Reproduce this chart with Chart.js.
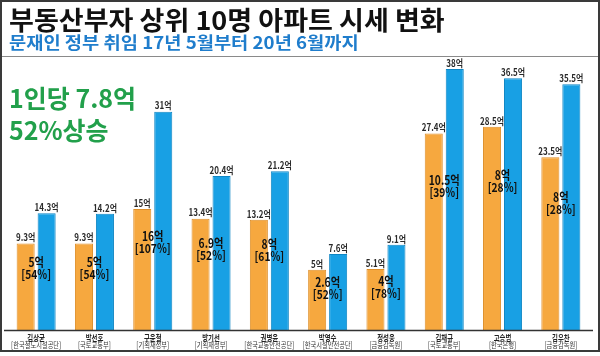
<!DOCTYPE html>
<html>
<head>
<meta charset="utf-8">
<script src="https://cdn.jsdelivr.net/npm/chart.js@4/dist/chart.umd.min.js"></script>
<style>
  html, body { margin: 0; padding: 0; background: #fff; }
  #wrap { width: 600px; height: 356px; }
</style>
</head>
<body>
<div id="wrap"><canvas id="c" width="600" height="356"></canvas></div>
<script>
// ---- data ----
const categories = ['김상균','박선호','구윤철','방기선','권병윤','박영수','정성웅','김채규','고승범','김우찬'];
const orgs = ['[한국철도시설공단]','[국토교통부]','[기획재정부]','[기획재정부]','[한국교통안전공단]','[한국시설안전공단]','[금융감독원]','[국토교통부]','[한국은행]','[금융감독원]'];
const price2017 = [9.3, 9.3, 15, 13.4, 13.2, 5, 5.1, 27.4, 28.5, 23.5];
const price2020 = [14.3, 14.2, 31, 20.4, 21.2, 7.6, 9.1, 38, 36.5, 35.5];
const gainAmount = ['5', '5', '16', '6.9', '8', '2.6', '4', '10.5', '8', '8'];
const gainPct = [54, 54, 107, 52, 61, 52, 78, 39, 28, 28];
const titleText = '부동산부자 상위 10명 아파트 시세 변화';
const subtitleText = '문재인 정부 취임 17년 5월부터 20년 6월까지';
const noteLines = ['1인당 7.8억', '52%상승'];

const KR = '"Noto Sans CJK KR", "Noto Sans", sans-serif';
const ORANGE = '#f6a83f', ORANGE_EDGE = '#de8f2a';
const BLUE = '#18a0e4', BLUE_EDGE = '#0f86c4';

function txt(ctx, s, x, y, font, color, sx, align) {
  ctx.save();
  ctx.font = font;
  ctx.fillStyle = color;
  ctx.textAlign = align || 'center';
  ctx.textBaseline = 'middle';
  ctx.translate(x, y);
  ctx.scale(sx || 1, 1);
  ctx.fillText(s, 0, 0);
  ctx.restore();
}

const decor = {
  id: 'decor',
  beforeDraw(chart) {
    const ctx = chart.ctx;
    ctx.save();
    ctx.fillStyle = '#fff';
    ctx.fillRect(0, 0, chart.width, chart.height);
    txt(ctx, titleText, 9, 20, 'bold 26px ' + KR, '#111', 1.04, 'left');
    txt(ctx, subtitleText, 9, 43, 'bold 17px ' + KR, '#1f7dcc', 1.1, 'left');
    ctx.strokeStyle = '#8a8a8a';
    ctx.lineWidth = 1;
    ctx.beginPath(); ctx.moveTo(1, 56.5); ctx.lineTo(599, 56.5); ctx.stroke();
    txt(ctx, noteLines[0], 9, 98, 'bold 25px ' + KR, '#22a04b', 1, 'left');
    txt(ctx, noteLines[1], 9, 130, 'bold 25px ' + KR, '#22a04b', 1, 'left');
    ctx.restore();
  },
  afterDatasetsDraw(chart) {
    const ctx = chart.ctx;
    const xs = chart.scales.x;
    const area = chart.chartArea;
    const m0 = chart.getDatasetMeta(0).data;
    const m1 = chart.getDatasetMeta(1).data;
    ctx.save();
    ctx.strokeStyle = '#333';
    ctx.lineWidth = 1.5;
    ctx.beginPath(); ctx.moveTo(4, area.bottom); ctx.lineTo(593, area.bottom); ctx.stroke();
    categories.forEach((name, i) => {
      const cx = xs.getPixelForValue(i);
      const b0 = m0[i], b1 = m1[i];
      txt(ctx, price2017[i] + '억', b0.x, b0.y - 6, 'bold 10px ' + KR, '#2a2a2a', 0.8);
      txt(ctx, price2020[i] + '억', b1.x, b1.y - 6, 'bold 10px ' + KR, '#2a2a2a', 0.8);
      const h = b0.base - b0.y;
      const cy = b0.y + 0.25 * h + 3;
      txt(ctx, gainAmount[i] + '억', cx, cy - 6, 'bold 12.5px ' + KR, '#111', 0.82);
      txt(ctx, '[' + gainPct[i] + '%]', cx, cy + 6, 'bold 12.5px ' + KR, '#111', 0.82);
      txt(ctx, name, cx, 337.5, 'bold 8.5px ' + KR, '#222', 0.75);
      txt(ctx, orgs[i], cx, 345, '8px ' + KR, '#333', 0.78);
    });
    ctx.strokeStyle = '#3a3a3a';
    ctx.lineWidth = 2;
    ctx.strokeRect(1, 1, 598, 350);
    ctx.restore();
  }
};

new Chart(document.getElementById('c'), {
  type: 'bar',
  data: {
    labels: categories,
    datasets: [
      { label: '2017', data: price2017, base: -5, backgroundColor: ORANGE, borderColor: ORANGE_EDGE, borderWidth: 1 },
      { label: '2020', data: price2020, base: -5, backgroundColor: BLUE, borderColor: BLUE_EDGE, borderWidth: 1 }
    ]
  },
  options: {
    responsive: false,
    devicePixelRatio: 1,
    animation: false,
    layout: { padding: { left: 7, right: 10, top: 60, bottom: 25.5 } },
    datasets: { bar: { categoryPercentage: 0.72, barPercentage: 0.86 } },
    scales: {
      x: { display: false },
      y: { display: false, min: -5, max: 39.5 }
    },
    plugins: { legend: { display: false }, tooltip: { enabled: false }, title: { display: false } }
  },
  plugins: [decor]
});
</script>
</body>
</html>
